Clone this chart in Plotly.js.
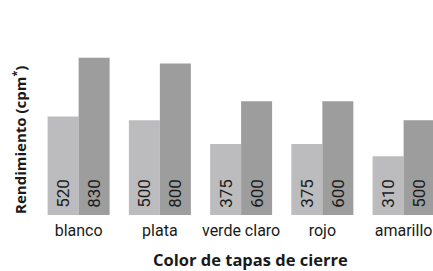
<!DOCTYPE html>
<html>
<head>
<meta charset="utf-8">
<script src="https://cdn.plot.ly/plotly-3.0.1.min.js"></script>
<style>html,body{margin:0;padding:0;background:#fff;}#chart{width:433px;height:271px;}</style>
</head>
<body>
<div id="chart"></div>
<script>
var categories = ["blanco", "plata", "verde claro", "rojo", "amarillo"];
var seriesA = [520, 500, 375, 375, 310];
var seriesB = [830, 800, 600, 600, 500];
var yTitle = "Rendimiento (cpm<sup>*</sup>)";
var xTitle = "Color de tapas de cierre";

var font = "Roboto, 'Open Sans', sans-serif";
var tfont = "'Open Sans', Roboto, sans-serif";
function bar(vals, color) {
  return {
    type: "bar", x: categories, y: vals,
    marker: {color: color, line: {width: 0}},
    text: vals.map(function (v) { return "\u00a0" + v; }),
    textposition: "inside", insidetextanchor: "start",
    textangle: -90, constraintext: "none",
    textfont: {family: font, size: 17, color: "#1a1a1a"},
    hoverinfo: "none", showlegend: false
  };
}
var data = [bar(seriesA, "#bcbcbe"), bar(seriesB, "#9c9d9c")];
var layout = {
  width: 433, height: 271,
  margin: {l: 38, r: 0, t: 25, b: 56},
  paper_bgcolor: "#fff", plot_bgcolor: "#fff",
  barmode: "group", bargap: 0.237, bargroupgap: 0,
  font: {family: font, color: "#1a1a1a"},
  xaxis: {
    range: [-0.5, 4.362], showgrid: false, zeroline: false, showline: false,
    ticks: "", ticklabelstandoff: 4, tickfont: {size: 16, color: "#1a1a1a"}
  },
  yaxis: {
    range: [0, 1003], showgrid: false, zeroline: false, showline: false,
    showticklabels: false, ticks: ""
  },
  annotations: [{
    text: "<b>" + yTitle + "</b>", xref: "paper", yref: "paper",
    x: -0.0456, y: 0.395, xanchor: "center", yanchor: "middle",
    textangle: -90, showarrow: false, font: {family: tfont, size: 15, color: "#1a1a1a"}
  }, {
    text: "<b>" + xTitle + "</b>", xref: "paper", yref: "paper",
    x: 0.537, y: -0.2316, xanchor: "center", yanchor: "middle",
    showarrow: false, font: {family: tfont, size: 16.5, color: "#1a1a1a"}
  }]
};
Plotly.newPlot("chart", data, layout, {staticPlot: true, displayModeBar: false});
</script>
</body>
</html>
